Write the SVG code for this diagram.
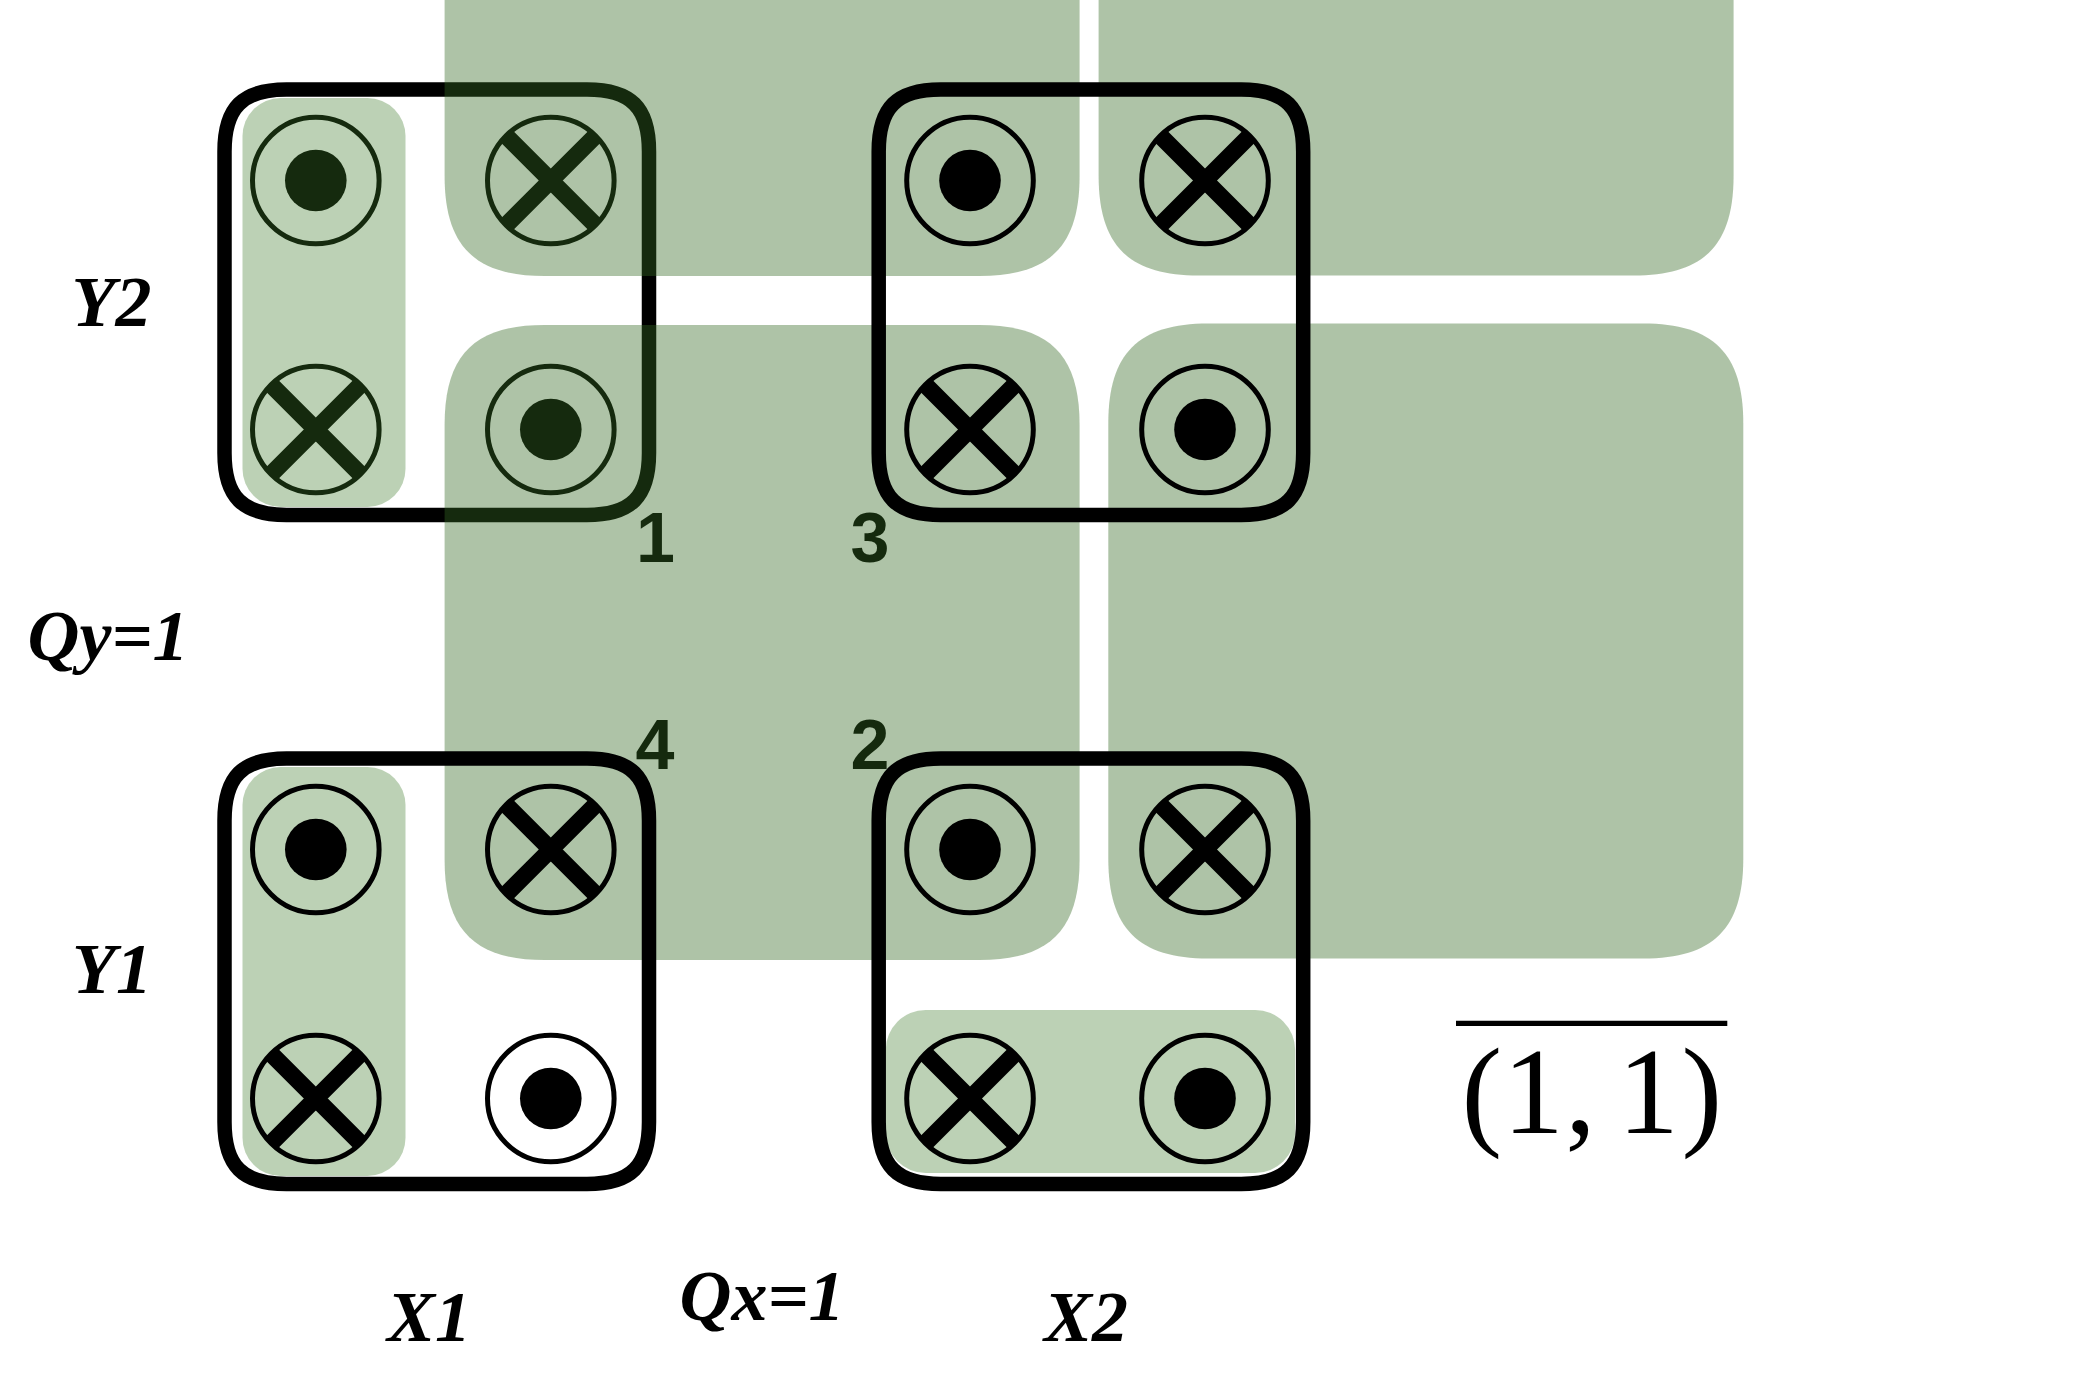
<svg xmlns="http://www.w3.org/2000/svg" xmlns:xlink="http://www.w3.org/1999/xlink" width="2094" height="1388" viewBox="0 0 2094 1388">
<style>
.frame{fill:none;stroke:#000;stroke-width:14.5}
.ring{fill:none;stroke:#000;stroke-width:5}
.dot{fill:#000}
.xl{fill:none;stroke:#000;stroke-width:17;stroke-linecap:butt}
.shade{fill:rgb(52,105,35);fill-opacity:0.4}
.light{fill:rgb(61,122,41);fill-opacity:0.345}
.axis{font-family:"Liberation Serif","Times New Roman",serif;font-weight:bold;font-style:italic;font-size:72px;fill:#000;text-anchor:middle}
.num{font-family:"Liberation Sans",Arial,sans-serif;font-weight:bold;font-size:70px;fill:#000;text-anchor:middle}
.math{font-family:"Liberation Serif","Times New Roman",serif;font-size:122px;fill:#000;text-anchor:middle}
</style>
<defs>
<path id="frameShape" d="M62,0 H362.5 C406.5,0 424.5,18 424.5,62 V363.5 C424.5,407.5 406.5,425.5 362.5,425.5 H62 C18,425.5 0,407.5 0,363.5 V62 C0,18 18,0 62,0 Z"/>
<path id="bigShape" d="M100,0 H535 C605,0 635,30 635,100 V535 C635,605 605,635 535,635 H100 C30,635 0,605 0,535 V100 C0,30 30,0 100,0 Z"/>
<g id="odot"><circle r="63.3" class="ring"/><circle r="30.8" class="dot"/></g>
<g id="otimes"><circle r="63.3" class="ring"/><path class="xl" d="M-44,-44 L44,44 M44,-44 L-44,44"/></g>
</defs>

<g id="box1" transform="translate(224.5,89.5)">
<use href="#frameShape" class="frame"/>
<use href="#odot" x="91.3" y="91"/>
<use href="#otimes" x="326.3" y="91"/>
<use href="#otimes" x="91.3" y="340"/>
<use href="#odot" x="326.3" y="340"/>
</g>

<g id="corner-numbers">
<text class="num" x="655.5" y="562">1</text>
<text class="num" x="870" y="562">3</text>
<text class="num" x="655" y="769">4</text>
<text class="num" x="870" y="769">2</text>
</g>

<g id="shading">
<use href="#bigShape" class="shade" x="444.6" y="-359"/>
<use href="#bigShape" class="shade" x="1098.6" y="-359.5"/>
<use href="#bigShape" class="shade" x="444.6" y="325"/>
<use href="#bigShape" class="shade" x="1108.3" y="323.5"/>
<rect class="light" x="242.5" y="98" width="163" height="409" rx="38" ry="38"/>
</g>

<g id="box2" transform="translate(878.7,89.5)">
<use href="#frameShape" class="frame"/>
<use href="#odot" x="91.3" y="91"/>
<use href="#otimes" x="326.3" y="91"/>
<use href="#otimes" x="91.3" y="340"/>
<use href="#odot" x="326.3" y="340"/>
</g>

<g id="box3" transform="translate(224.5,758.5)">
<rect class="light" x="18" y="8.5" width="163" height="409" rx="38" ry="38"/>
<use href="#frameShape" class="frame"/>
<use href="#odot" x="91.3" y="91"/>
<use href="#otimes" x="326.3" y="91"/>
<use href="#otimes" x="91.3" y="340"/>
<use href="#odot" x="326.3" y="340"/>
</g>

<g id="box4" transform="translate(878.7,758.5)">
<rect class="light" x="7" y="251.5" width="409.5" height="163" rx="40" ry="40"/>
<use href="#frameShape" class="frame"/>
<use href="#odot" x="91.3" y="91"/>
<use href="#otimes" x="326.3" y="91"/>
<use href="#otimes" x="91.3" y="340"/>
<use href="#odot" x="326.3" y="340"/>
</g>

<g id="connectors"></g>

<g id="axis-labels">
<text class="axis" x="111.5" y="326">Y2</text>
<text class="axis" x="108" y="660">Qy=1</text>
<text class="axis" x="112" y="993">Y1</text>
<text class="axis" x="429" y="1341">X1</text>
<text class="axis" x="762" y="1320">Qx=1</text>
<text class="axis" x="1086" y="1341">X2</text>
</g>

<g id="result-label">
<line x1="1456" y1="1023.3" x2="1727.3" y2="1023.3" stroke="#000" stroke-width="5.3"/>
<text class="math" x="1481.7 1533.3 1580.5 1648.3 1701.7" y="1133">(1,1)</text>
</g>
</svg>
